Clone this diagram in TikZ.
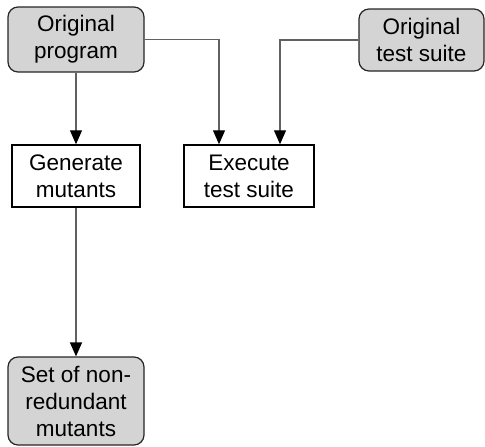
\documentclass[tikz,border=0pt]{standalone}
\usepackage{fontspec}
\setmainfont{Liberation Sans}
\usetikzlibrary{arrows.meta}
\begin{document}
\begin{tikzpicture}[x=1pt,y=-1pt,
  every node/.style={font=\fontsize{22.5}{27}\selectfont, align=center, inner sep=0pt},
  source/.style={draw=black!85, line width=1.2pt, fill=black!17, rounded corners=10pt},
  action/.style={draw=black, line width=1.5pt, fill=white},
  link/.style={draw=black!62, line width=1.4pt, -{Triangle[length=14pt,width=12pt,color=black]}}]
  \useasboundingbox (0,0) rectangle (485,447);

  % input artefacts
  \node[source, minimum width=136pt, minimum height=65pt] (orig) at (76,39.5) {Original\\program};
  \node[source, minimum width=125pt, minimum height=62pt] (suite) at (421.5,40) {Original\\test suite};

  % processing steps
  \node[action, minimum width=128pt, minimum height=62pt] (gen) at (76,176) {Generate\\mutants};
  \node[action, minimum width=130pt, minimum height=62pt] (exec) at (249,176) {Execute\\test suite};

  % result
  \node[source, minimum width=136pt, minimum height=88pt] (set) at (76,401) {Set of non-\\redundant\\mutants};

  % flow
  \draw[link] (orig) -- (gen);
  \draw[link] (orig.east) -| ([xshift=-30pt]exec.north);
  \draw[link] (suite.west) -| ([xshift=31pt]exec.north);
  \draw[link] (gen) -- (set);
\end{tikzpicture}
\end{document}
